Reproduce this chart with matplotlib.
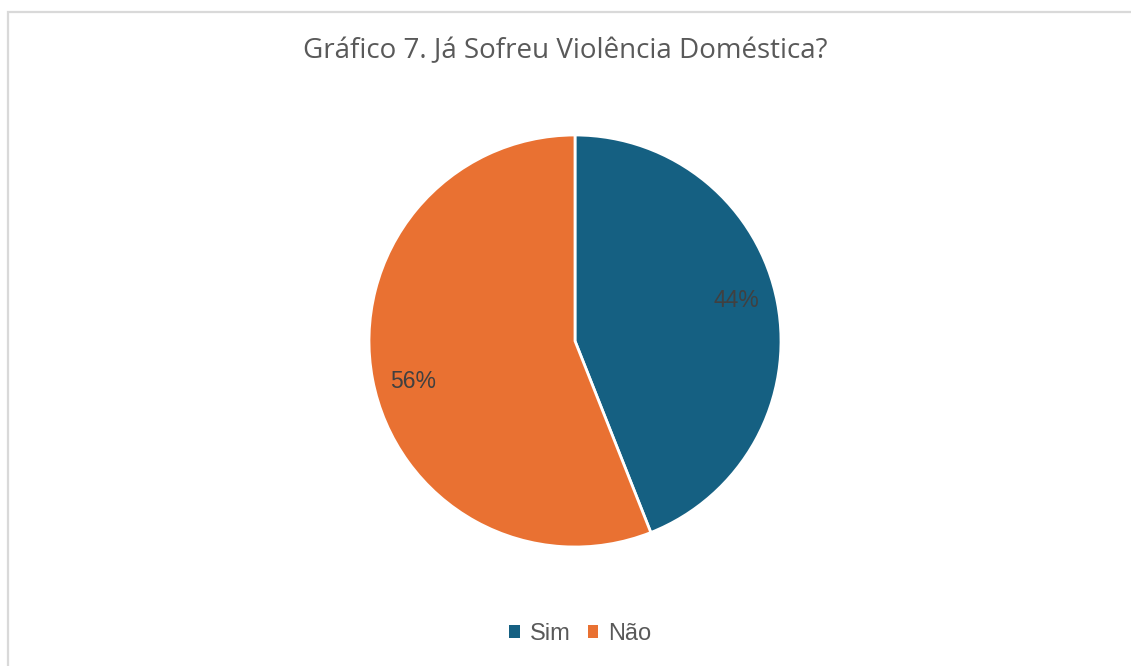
import numpy as np
import matplotlib.pyplot as plt
from matplotlib.patches import Rectangle, Patch

labels = ['Sim', 'Não']
values = [44, 56]
colors = ['#156082', '#E97132']
title = 'Gráfico 7. Já Sofreu Violência Doméstica?'

W, H = 1131, 666
fig = plt.figure(figsize=(W / 100, H / 100), dpi=100)

# light frame around the chart area
fig.add_artist(Rectangle((8 / W, -0.05), 1.2, 1 - 12 / H + 0.05,
                         transform=fig.transFigure, fill=False,
                         edgecolor='#D9D9D9', linewidth=1.6))

ax = fig.add_axes([369 / W, 119 / H, 412 / W, 412 / H])
wedges, texts, autotexts = ax.pie(
    values, colors=colors, startangle=90, counterclock=False,
    autopct='%1.0f%%', pctdistance=0.8, radius=1,
    wedgeprops=dict(edgecolor='white', linewidth=2),
    textprops=dict(color='#404040', fontsize=16.5, family='Liberation Sans'))

# nudge the percent labels a little around each wedge's mid angle
for w, t in zip(wedges, autotexts):
    ang = np.deg2rad((w.theta1 + w.theta2) / 2 + 3.4)
    t.set_position((0.81 * np.cos(ang), 0.81 * np.sin(ang)))

ax.set_xlim(-1, 1)
ax.set_ylim(-1, 1)
ax.set_aspect('equal')

fig.text(0.5, 1 - 51 / H, title, ha='center', va='center',
         fontsize=20, color='#595959', family='Open Sans')

handles = [Patch(facecolor=c, edgecolor='none') for c in colors]
fig.legend(handles, labels, loc='center', bbox_to_anchor=(0.513, 1 - 634 / H),
           ncol=2, frameon=False, handlelength=0.45, handleheight=0.45,
           handletextpad=0.4, columnspacing=0.75,
           prop=dict(family='Liberation Sans', size=17), labelcolor='#595959')

fig.savefig('out.png', dpi=100)
